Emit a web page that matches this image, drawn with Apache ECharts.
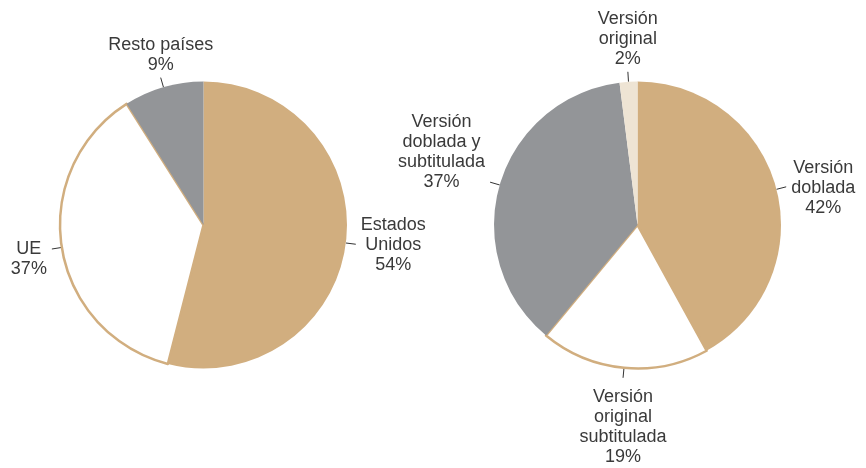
<!DOCTYPE html>
<html>
<head>
<meta charset="utf-8">
<script src="https://cdn.jsdelivr.net/npm/echarts@6/dist/echarts.min.js"></script>
<style>
html,body{margin:0;padding:0;background:#fff;}
#chart{width:866px;height:468px;}
</style>
</head>
<body>
<div id="chart"></div>
<script>
// Left pie: origin of films
const originCategories = ['Estados\nUnidos', 'UE', 'Resto países'];
const originValues = [54, 37, 9];

// Right pie: version of screenings
const versionCategories = ['Versión\ndoblada', 'Versión\noriginal\nsubtitulada', 'Versión\ndoblada y\nsubtitulada', 'Versión\noriginal'];
const versionValues = [42, 19, 37, 2];

const TAN = '#D1AE7F', GRAY = '#939598', BEIGE = '#EEE4D4', WHITE = '#FFFFFF';
const originColors = [TAN, WHITE, GRAY];
const versionColors = [TAN, WHITE, GRAY, BEIGE];

function buildData(cats, vals, colors) {
  return cats.map((c, i) => ({
    name: c,
    value: vals[i],
    itemStyle: colors[i] === WHITE
      ? { color: WHITE, borderColor: TAN, borderWidth: 2.5 }
      : { color: colors[i], borderWidth: 0 }
  }));
}

const LH = 20;
function placeLabel(p) {
  const pts = p.labelLinePoints;
  if (!pts) return {};
  const s = pts[0], e = pts[pts.length - 1];
  const dx = e[0] - s[0], dy = e[1] - s[1];
  const w = p.labelRect.width;
  const gap = 5;
  if (Math.abs(dy) > Math.abs(dx) * 1.5) {
    return {
      x: e[0], y: dy < 0 ? e[1] - 3 : e[1] + 9,
      align: 'center', verticalAlign: dy < 0 ? 'bottom' : 'top',
      labelLinePoints: pts
    };
  }
  if (dx > 0) {
    return { x: e[0] + gap + w / 2, y: e[1] + 1, align: 'center', verticalAlign: 'middle', labelLinePoints: pts };
  }
  if (dy < 0) {
    return { x: e[0] - gap - w / 2, y: e[1] + LH / 2, align: 'center', verticalAlign: 'bottom', labelLinePoints: pts };
  }
  return { x: e[0] - gap - w / 2, y: e[1] - LH / 2, align: 'center', verticalAlign: 'top', labelLinePoints: pts };
}

const common = {
  type: 'pie',
  radius: 143.5,
  startAngle: 90,
  clockwise: true,
  avoidLabelOverlap: false,
  animation: false,
  silent: true,
  label: {
    show: true,
    position: 'outside',
    formatter: '{b}\n{c}%',
    color: '#3a3a3a',
    fontFamily: 'Liberation Sans, Arial, sans-serif',
    fontSize: 18,
    lineHeight: LH
  },
  labelLine: {
    show: true,
    length: 10,
    length2: 0,
    smooth: false,
    lineStyle: { color: '#333333', width: 1 }
  },
  labelLayout: placeLabel,
  emphasis: { disabled: true }
};

const chart = echarts.init(document.getElementById('chart'), null, { renderer: 'canvas' });
chart.setOption({
  backgroundColor: '#ffffff',
  series: [
    Object.assign({}, common, { center: [203.5, 225], data: buildData(originCategories, originValues, originColors) }),
    Object.assign({}, common, { center: [637.5, 225], data: buildData(versionCategories, versionValues, versionColors) })
  ]
});
</script>
</body>
</html>
